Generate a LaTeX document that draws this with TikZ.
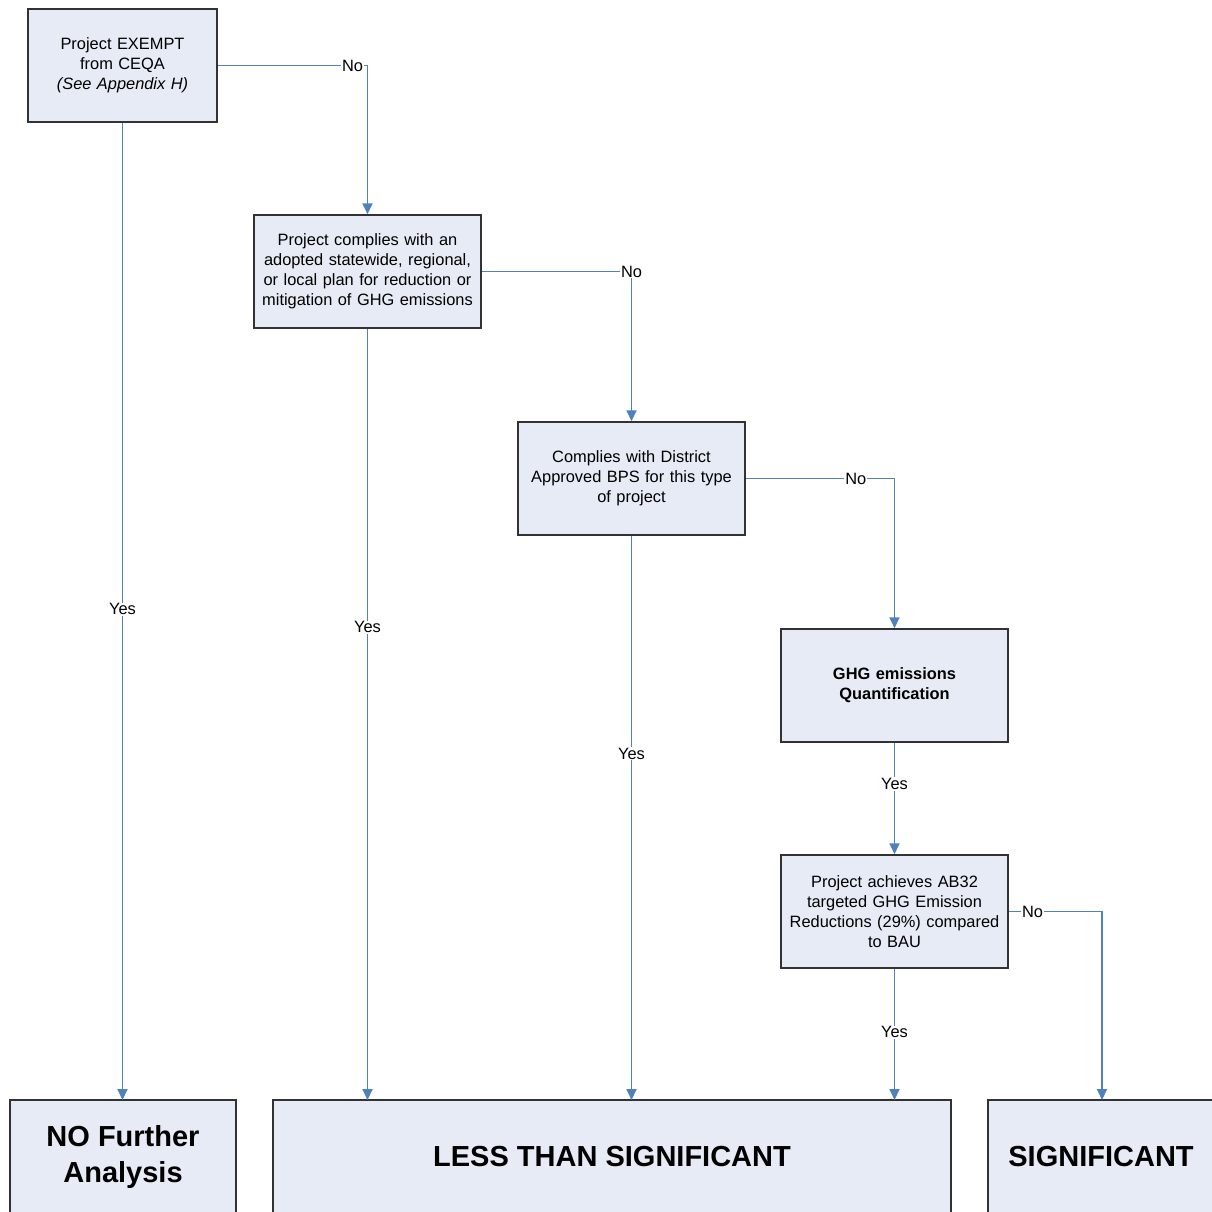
\documentclass[tikz,border=0pt]{standalone}
\usepackage{fontspec}
\setmainfont{Liberation Sans}
\usetikzlibrary{arrows.meta,positioning}
\definecolor{linkblue}{RGB}{79,129,189}
\definecolor{boxfill}{RGB}{230,235,245}
\definecolor{boxline}{RGB}{50,50,50}
\begin{document}
\begin{tikzpicture}[x=1pt,y=-1pt,
  decision/.style={draw=boxline, line width=1.5pt, fill=boxfill, minimum width=227pt, minimum height=113pt,
    inner sep=0pt, align=center, font=\fontsize{16.4}{20}\selectfont, text width=224pt},
  firstbox/.style={decision, minimum width=189pt, text width=187pt},
  result/.style={draw=boxline, line width=1.5pt, fill=boxfill, minimum height=113pt, inner sep=0pt,
    align=center, font=\fontsize{29}{36}\selectfont\bfseries},
  link/.style={draw=linkblue, line width=1.8pt, -{Triangle[width=10pt,length=11pt]}},
  lbl/.style={fill=white, inner sep=1pt, text=black, font=\fontsize{16.4}{18}\selectfont}
]
\useasboundingbox (0,0) rectangle (1211,1212);
\fill[white] (0,0) rectangle (1211,1212);

\node[firstbox] (A) at (122.5,65.5) {Project EXEMPT\\from CEQA\\\textit{(See Appendix H)}};
\node[decision] (B) at (367.5,271.5) {Project complies with an\\adopted statewide, regional,\\or local plan for reduction or\\mitigation of GHG emissions};
\node[decision] (C) at (631.5,478.5) {Complies with District\\Approved BPS for this type\\of project};
\node[decision, font=\fontsize{16.4}{20}\selectfont\bfseries] (D) at (894.5,685.5) {GHG emissions\\Quantification};
\node[decision] (E) at (894.5,911.5) {Project achieves AB32\\targeted GHG Emission\\Reductions (29\%) compared\\to BAU};

\node[result, minimum width=226pt] (R1) at (123,1156.5) {NO Further\\Analysis};
\node[result, minimum width=678pt] (R2) at (612,1156.5) {LESS THAN SIGNIFICANT};
\node[result, minimum width=226pt] (R3) at (1101,1156.5) {SIGNIFICANT};

\coordinate (r1a) at (122.5,1100);
\coordinate (r2a) at (367.5,1100);
\coordinate (r2b) at (631.5,1100);
\coordinate (r2c) at (894.5,1100);
\coordinate (r3a) at (1102,1100);

\path[link] (A.east) -| node[lbl, pos=0.45] {No} (B.north);
\path[link] (A.south) -- node[lbl, pos=0.498] {Yes} (r1a);
\path[link] (B.east) -| node[lbl, pos=0.5] {No} (C.north);
\path[link] (B.south) -- node[lbl, pos=0.387] {Yes} (r2a);
\path[link] (C.east) -| node[lbl, pos=0.37] {No} (D.north);
\path[link] (C.south) -- node[lbl, pos=0.386] {Yes} (r2b);
\path[link] (D.south) -- node[lbl, pos=0.37] {Yes} (E.north);
\path[link] (E.east) -| node[lbl, pos=0.128] {No} (r3a);
\path[link] (E.south) -- node[lbl, pos=0.485] {Yes} (r2c);
\end{tikzpicture}
\end{document}
